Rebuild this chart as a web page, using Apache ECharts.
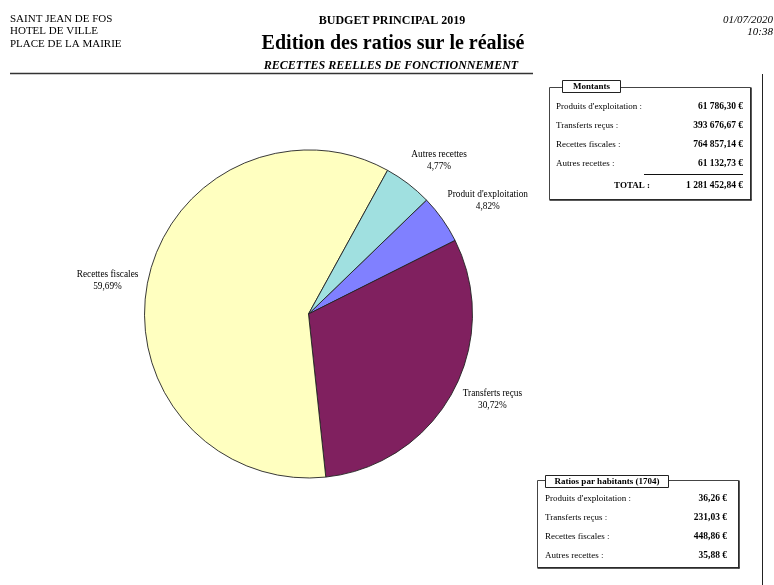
<!DOCTYPE html>
<html>
<head>
<meta charset="utf-8">
<script src="https://cdn.jsdelivr.net/npm/echarts@6/dist/echarts.min.js"></script>
<style>
  html, body { margin: 0; padding: 0; background: #fff; }
  #chart { width: 774px; height: 585px; }
</style>
</head>
<body>
<div id="chart"></div>
<script>
// Recettes réelles de fonctionnement, budget principal 2019
const categories = ["Produits d'exploitation", "Transferts reçus", "Recettes fiscales", "Autres recettes"];
const pieLabels = ["Produit d'exploitation", "Transferts reçus", "Recettes fiscales", "Autres recettes"];
const amounts = [61786.30, 393676.67, 764857.14, 61132.73];
const totalAmount = 1281452.84;
const population = 1704;
const perInhabitant = [36.26, 231.03, 448.86, 35.88];

const sliceColors = ['#8080ff', '#80205f', '#ffffc0', '#a0e0e0'];
// small nudges so the slice captions sit where the report puts them
const labelNudges = [[12, 5], [4, -13], [0, 7], [6, 9]];

const SERIF = '"Liberation Serif", "DejaVu Serif", serif';

function frNumber(v) {
  const parts = v.toFixed(2).split('.');
  const intPart = parts[0].replace(/\B(?=(\d{3})+(?!\d))/g, ' ');
  return intPart + ',' + parts[1] + ' €';
}

const chart = echarts.init(document.getElementById('chart'), null, { renderer: 'canvas' });

const center = [308.5, 314];
const startAngle = 44;

const graphics = [];
function txt(x, y, text, font, align, vAlign) {
  graphics.push({
    type: 'text', x: x, y: y, silent: true,
    style: { text: text, font: font, fill: '#000', align: align || 'left', verticalAlign: vAlign || 'middle' }
  });
}
function line(x1, y1, x2, y2, w, c) {
  graphics.push({
    type: 'line', silent: true,
    shape: { x1: x1, y1: y1, x2: x2, y2: y2 },
    style: { stroke: c || '#000', lineWidth: w || 1 }
  });
}
function box(x, y, w, h) {
  graphics.push({ type: 'rect', silent: true, shape: { x: x, y: y, width: w, height: h },
    style: { fill: '#fff', stroke: '#444', lineWidth: 1 } });
  line(x + w + 0.5, y, x + w + 0.5, y + h + 1, 1.5, '#222');
  line(x, y + h + 0.5, x + w + 1, y + h + 0.5, 1.5, '#222');
}

const ROW_FONT = '9px ' + SERIF;
const VALUE_FONT = 'bold 9.5px ' + SERIF;

// page header
txt(10, 19, 'SAINT JEAN DE FOS', '11px ' + SERIF);
txt(10, 31.5, 'HOTEL DE VILLE', '11px ' + SERIF);
txt(10, 44, 'PLACE DE LA MAIRIE', '11px ' + SERIF);
txt(392, 21, 'BUDGET PRINCIPAL 2019', 'bold 12px ' + SERIF, 'center');
txt(393, 44, 'Edition des ratios sur le réalisé', 'bold 20px ' + SERIF, 'center');
txt(391, 65.5, 'RECETTES REELLES DE FONCTIONNEMENT', 'italic bold 12px ' + SERIF, 'center');
txt(773, 20.5, '01/07/2020', 'italic 11px ' + SERIF, 'right');
txt(773, 32, '10:38', 'italic 11px ' + SERIF, 'right');
line(10, 73.5, 533, 73.5, 1.5, '#333');
line(762.5, 74, 762.5, 585, 1, '#222');

// amounts panel
box(549.5, 87.5, 201, 112);
graphics.push({ type: 'rect', silent: true, shape: { x: 562.5, y: 80.5, width: 58, height: 12 },
  style: { fill: '#fff', stroke: '#222', lineWidth: 1 } });
txt(591.5, 87, 'Montants', 'bold 9px ' + SERIF, 'center');
const rowY1 = [107, 126, 145, 164];
categories.forEach(function (name, i) {
  txt(556, rowY1[i], name + ' :', ROW_FONT);
  txt(743, rowY1[i], frNumber(amounts[i]), VALUE_FONT, 'right');
});
line(644, 174.5, 743, 174.5, 1, '#111');
txt(650, 186, 'TOTAL :', 'bold 9px ' + SERIF, 'right');
txt(743, 186, frNumber(totalAmount), VALUE_FONT, 'right');

// per-inhabitant panel
box(537.5, 480.5, 201, 87);
graphics.push({ type: 'rect', silent: true, shape: { x: 545.5, y: 475.5, width: 123, height: 12 },
  style: { fill: '#fff', stroke: '#222', lineWidth: 1 } });
txt(607, 482, 'Ratios par habitants (' + population + ')', 'bold 9px ' + SERIF, 'center');
const rowY2 = [499, 518, 537, 556];
categories.forEach(function (name, i) {
  txt(545, rowY2[i], name + ' :', ROW_FONT);
  txt(727, rowY2[i], frNumber(perInhabitant[i]), VALUE_FONT, 'right');
});

const pieData = amounts.map(function (v, i) {
  return { name: pieLabels[i], value: v, itemStyle: { color: sliceColors[i] } };
});
const labelData = amounts.map(function (v, i) {
  return { name: pieLabels[i], value: v, label: { offset: labelNudges[i] } };
});

chart.setOption({
  animation: false,
  backgroundColor: '#fff',
  series: [
    {
      type: 'pie',
      center: center,
      radius: 164,
      startAngle: startAngle,
      clockwise: true,
      silent: true,
      label: { show: false },
      labelLine: { show: false },
      itemStyle: { borderColor: '#222', borderWidth: 0.9 },
      emphasis: { disabled: true },
      data: pieData
    },
    {
      // transparent ring that only carries the slice captions
      type: 'pie',
      center: center,
      radius: [192, 212],
      startAngle: startAngle,
      clockwise: true,
      silent: true,
      itemStyle: { color: 'rgba(0,0,0,0)', borderWidth: 0 },
      emphasis: { disabled: true },
      label: {
        show: true,
        position: 'inside',
        color: '#000',
        textBorderWidth: 0,
        fontFamily: SERIF,
        fontSize: 9.3,
        lineHeight: 12,
        align: 'center',
        formatter: function (p) {
          return p.name + '\n' + p.percent.toFixed(2).replace('.', ',') + '%';
        }
      },
      labelLine: { show: false },
      data: labelData
    }
  ],
  graphic: graphics
});
</script>
</body>
</html>
